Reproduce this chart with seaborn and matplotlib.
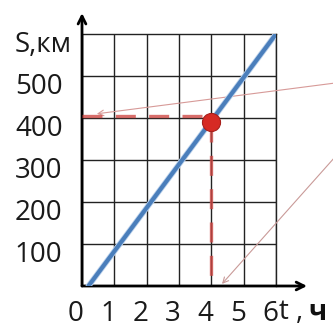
import matplotlib
matplotlib.use('Agg')
import matplotlib.pyplot as plt
import matplotlib.transforms as mtransforms
import seaborn as sns
import pandas as pd

# data
t_line = [0.2, 6]
s_line = [0, 600]
t_point = [4]
s_point = [390]
s_read = 405
t_ticks = [0, 1, 2, 3, 4, 5, 6]
s_ticks = [100, 200, 300, 400, 500]

line_df = pd.DataFrame({'t': t_line, 'S': s_line})
point_df = pd.DataFrame({'t': t_point, 'S': s_point})

sns.set_style('white')
plt.rcParams['font.family'] = ['Open Sans', 'DejaVu Sans']

fig = plt.figure(figsize=(3.33, 3.27), dpi=100)
ax = fig.add_axes([82 / 333, 41 / 327, 194 / 333, 252 / 327])

ax.set_xlim(0, 6)
ax.set_ylim(0, 600)
ax.set_xticks(t_ticks)
ax.set_yticks(s_ticks)
ax.set_xticklabels([str(t) for t in t_ticks])
ax.set_yticklabels([str(s) for s in s_ticks])
ax.grid(True, color='#222222', lw=1.0)
ax.tick_params(length=0, labelsize=20, colors='#1a1a1a')
ax.tick_params(axis='y', pad=14)
ax.tick_params(axis='x', pad=10)

for side in ['top', 'right']:
    ax.spines[side].set_color('#222222')
    ax.spines[side].set_linewidth(1.0)
for side in ['left', 'bottom']:
    ax.spines[side].set_visible(False)

# shift tick labels a little, as in the picture
for lab in ax.get_yticklabels():
    lab.set_transform(lab.get_transform() + mtransforms.ScaledTranslation(0, -0.08, fig.dpi_scale_trans))
for lab in ax.get_xticklabels():
    lab.set_transform(lab.get_transform() + mtransforms.ScaledTranslation(-0.06, 0, fig.dpi_scale_trans))

# axes with arrows
ax.annotate('', xy=(0, 1.083), xytext=(0, 0), xycoords='axes fraction',
            arrowprops=dict(arrowstyle='->', lw=2.0, color='black', mutation_scale=14,
                            shrinkA=0, shrinkB=0), annotation_clip=False)
ax.annotate('', xy=(1.16, 0), xytext=(0, 0), xycoords='axes fraction',
            arrowprops=dict(arrowstyle='->', lw=2.0, color='black', mutation_scale=14,
                            shrinkA=0, shrinkB=0), annotation_clip=False)

# S(t) line
sns.lineplot(data=line_df, x='t', y='S', ax=ax, color='#bcd2ec', lw=4.2, zorder=4)
sns.lineplot(data=line_df, x='t', y='S', ax=ax, color='#4a7ebb', lw=3, zorder=5)

# reading the graph at t = 4
ax.plot([0, t_point[0]], [s_read, s_read], color='#cf4a46', lw=2.4, alpha=0.8,
        dashes=(6, 4), zorder=6, clip_on=False)
ax.plot([t_point[0], t_point[0]], [s_point[0], 0], color='#cf4a46', lw=2.4, alpha=0.8,
        dashes=(6, 4), zorder=6, clip_on=False)
sns.scatterplot(data=point_df, x='t', y='S', ax=ax, s=170, color='#d62a24',
                edgecolor='#a8201c', linewidth=0.8, zorder=7)

# thin pointer arrows coming from the right
ax.annotate('', xy=(0.46, 410), xytext=(7.8, 483),
            arrowprops=dict(arrowstyle='->', lw=0.8, color='#d79a98', shrinkA=0, shrinkB=0),
            annotation_clip=False)
ax.annotate('', xy=(4.33, 5), xytext=(7.8, 305),
            arrowprops=dict(arrowstyle='->', lw=0.8, color='#c99a98', shrinkA=0, shrinkB=0),
            annotation_clip=False)

# axis names
ax.text(-0.31, 573, 'S,км', ha='right', va='center', fontsize=20, color='#1a1a1a', clip_on=False)
ax.text(6.07, -62, 't', ha='left', va='center', fontsize=20, color='#1a1a1a', clip_on=False)
ax.text(6.6, -62, ',', ha='left', va='center', fontsize=20, color='#1a1a1a', clip_on=False)
ax.text(7.0, -62, 'ч', ha='left', va='center', fontsize=20, fontweight='bold',
        color='#111111', clip_on=False)

ax.set_xlabel('')
ax.set_ylabel('')

fig.savefig('out.png', dpi=100)
